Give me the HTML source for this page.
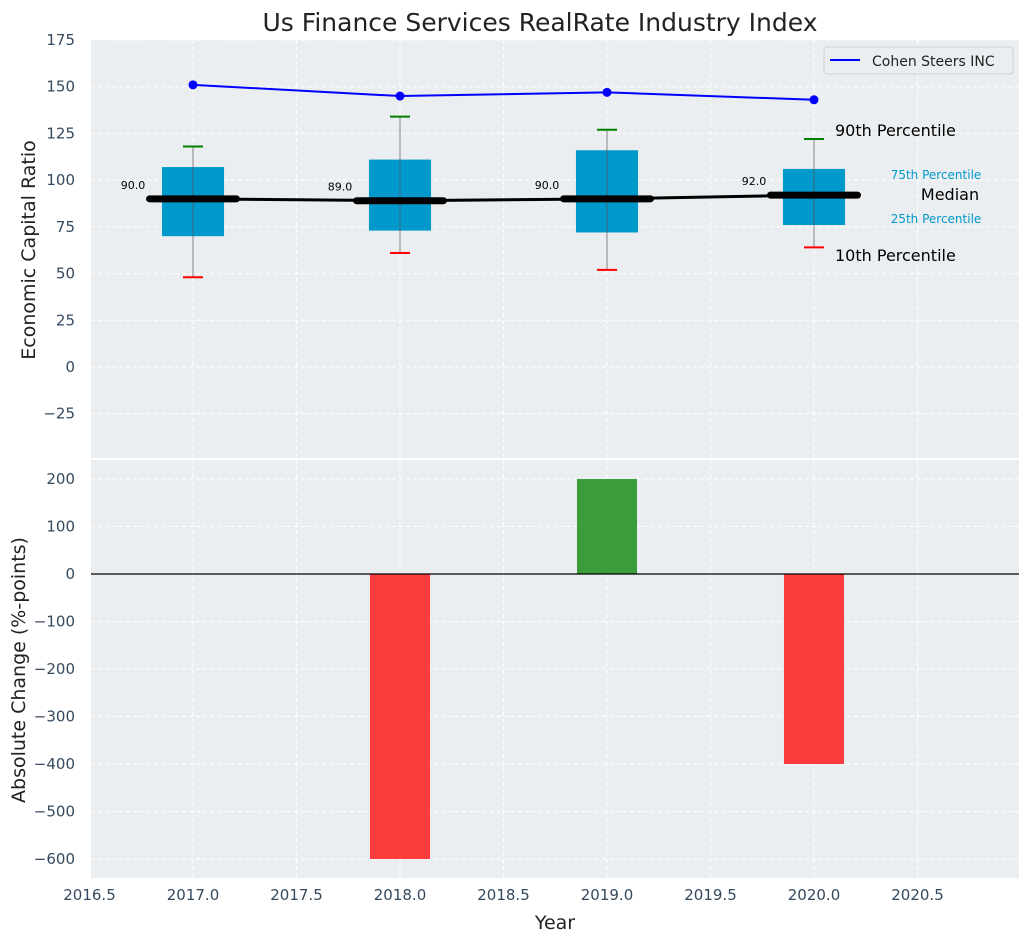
<!DOCTYPE html>
<html><head><meta charset="utf-8"><style>
body{margin:0;background:#fff;font-family:"Liberation Sans","DejaVu Sans",sans-serif;}
svg text{font-family:"DejaVu Sans","Liberation Sans",sans-serif;}
</style></head><body>
<svg id="c" width="1029" height="942" xmlns="http://www.w3.org/2000/svg"></svg>
<script>
const years=[2017,2018,2019,2020];
const lineVals=[151,145,147,143];
const q1=[70,73,72,76];
const q3=[107,111,116,106];
const med=[90,89,90,92];
const p10=[48,61,52,64];
const p90=[118,134,127,122];
const changes=[0,-600,200,-400];
const xTicks=[2016.5,2017.0,2017.5,2018.0,2018.5,2019.0,2019.5,2020.0,2020.5];
const yTopTicks=[-25,0,25,50,75,100,125,150,175];
const yBotTicks=[-600,-500,-400,-300,-200,-100,0,100,200];

const svg=document.getElementById('c');
const NS='http://www.w3.org/2000/svg';
function el(tag,attrs,parent){const e=document.createElementNS(NS,tag);for(const k in attrs)e.setAttribute(k,attrs[k]);(parent||svg).appendChild(e);return e;}
const L=91,R=1019;
const X=v=>89.5+(v-2016.5)*207;
const T0=40,T1=458,B0=460,B1=878;
const YT=v=>367-v*(327/175);
const YB=v=>574-v*0.475;

let bg=el('rect',{x:L,y:T0,width:R-L,height:T1-T0,fill:'#ebeef0'});


let bg2=el('rect',{x:L,y:B0,width:R-L,height:B1-B0,fill:'#ebeef0'});



xTicks.forEach(t=>{
  el('line',{x1:X(t),x2:X(t),y1:T0,y2:T1,stroke:'#fff','stroke-dasharray':'4,3','stroke-width':1});
  el('line',{x1:X(t),x2:X(t),y1:B0,y2:B1,stroke:'#fff','stroke-dasharray':'4,3','stroke-width':1});
  const tx=el('text',{x:X(t),y:B1+22,'text-anchor':'middle','font-size':15,fill:'#34495e'});
  tx.textContent=t.toFixed(1);
  
  
});
yTopTicks.forEach(t=>{
  el('line',{x1:L,x2:R,y1:YT(t),y2:YT(t),stroke:'#fff','stroke-dasharray':'4,3','stroke-width':1});
  const tx=el('text',{x:L-16,y:YT(t)+5,'text-anchor':'end','font-size':15,fill:'#34495e'});
  tx.textContent=t<0?'\u2212'+Math.abs(t):t;
  
  
});
yBotTicks.forEach(t=>{
  el('line',{x1:L,x2:R,y1:YB(t),y2:YB(t),stroke:'#fff','stroke-dasharray':'4,3','stroke-width':1});
  const tx=el('text',{x:L-16,y:YB(t)+5,'text-anchor':'end','font-size':15,fill:'#34495e'});
  tx.textContent=t<0?'\u2212'+Math.abs(t):t;
  
  
});

years.forEach((y,i)=>{
  const bw=0.3*207;
  const b=el('rect',{x:X(y)-bw/2,y:YT(q3[i]),width:bw,height:YT(q1[i])-YT(q3[i]),fill:'#0099cc'});
  
  
  el('line',{x1:X(y),x2:X(y),y1:YT(p90[i]),y2:YT(p10[i]),stroke:'#555','stroke-width':1,opacity:0.7});
  el('line',{x1:X(y)-10,x2:X(y)+10,y1:YT(p90[i]),y2:YT(p90[i]),stroke:'green','stroke-width':2});
  el('line',{x1:X(y)-10,x2:X(y)+10,y1:YT(p10[i]),y2:YT(p10[i]),stroke:'red','stroke-width':2});
});
let d=years.map((y,i)=>(i?'L':'M')+X(y)+','+YT(med[i])).join(' ');
let ml=el('path',{d:d,stroke:'#000','stroke-width':3,fill:'none'});


years.forEach((y,i)=>{
  const m=el('line',{x1:X(y)-0.21*207,x2:X(y)+0.21*207,y1:YT(med[i]),y2:YT(med[i]),stroke:'#000','stroke-width':7,'stroke-linecap':'round'});
  
  
  const t=el('text',{x:X(y)-0.29*207,y:YT(med[i])-10,'text-anchor':'middle','font-size':11,fill:'#000'});
  t.textContent=med[i].toFixed(1);
  
  
});
d=years.map((y,i)=>(i?'L':'M')+X(y)+','+YT(lineVals[i])).join(' ');
let cl=el('path',{d:d,stroke:'blue','stroke-width':2,fill:'none'});


years.forEach((y,i)=>{
  const c=el('circle',{cx:X(y),cy:YT(lineVals[i]),r:4.5,fill:'blue'});
  
  
});
const ann=[[835,136,'90th Percentile',16,'#000','start'],[835,261,'10th Percentile',16,'#000','start'],[936,179,'75th Percentile',12,'#0099cc','middle'],[936,223,'25th Percentile',12,'#0099cc','middle'],[950,200,'Median',16,'#000','middle']];
ann.forEach(a=>{const t=el('text',{x:a[0],y:a[1],'font-size':a[3],fill:a[4],'text-anchor':a[5]});t.textContent=a[2];

});

let lg=el('rect',{x:824,y:47,width:189,height:27,rx:3,fill:'#ebeef0',stroke:'#d0d0d0'});


el('line',{x1:830,x2:860,y1:60,y2:60,stroke:'blue','stroke-width':2});
let lt=el('text',{x:872,y:66,'font-size':14,fill:'#222'});lt.textContent='Cohen Steers INC';



years.forEach((y,i)=>{
  const v=changes[i];if(v===0)return;
  const bw=0.29*207;
  const b=el('rect',{x:X(y)-bw/2,y:Math.min(YB(v),YB(0)),width:bw,height:Math.abs(YB(v)-YB(0)),fill:v>0?'green':'red','fill-opacity':0.75});
  
  
});
el('line',{x1:L,x2:R,y1:YB(0),y2:YB(0),stroke:'#000','stroke-width':1.2});

let tt=el('text',{x:540,y:31,'text-anchor':'middle','font-size':25,fill:'#222'});tt.textContent='Us Finance Services RealRate Industry Index';

let xt=el('text',{x:555,y:929,'text-anchor':'middle','font-size':19,fill:'#222'});xt.textContent='Year';

let y1=el('text',{x:0,y:0,'text-anchor':'middle','font-size':19,fill:'#222',transform:'translate(35,250) rotate(-90)'});y1.textContent='Economic Capital Ratio';

let y2=el('text',{x:0,y:0,'text-anchor':'middle','font-size':19,fill:'#222',transform:'translate(25,670) rotate(-90)'});y2.textContent='Absolute Change (%-points)';

</script>
</body></html>
